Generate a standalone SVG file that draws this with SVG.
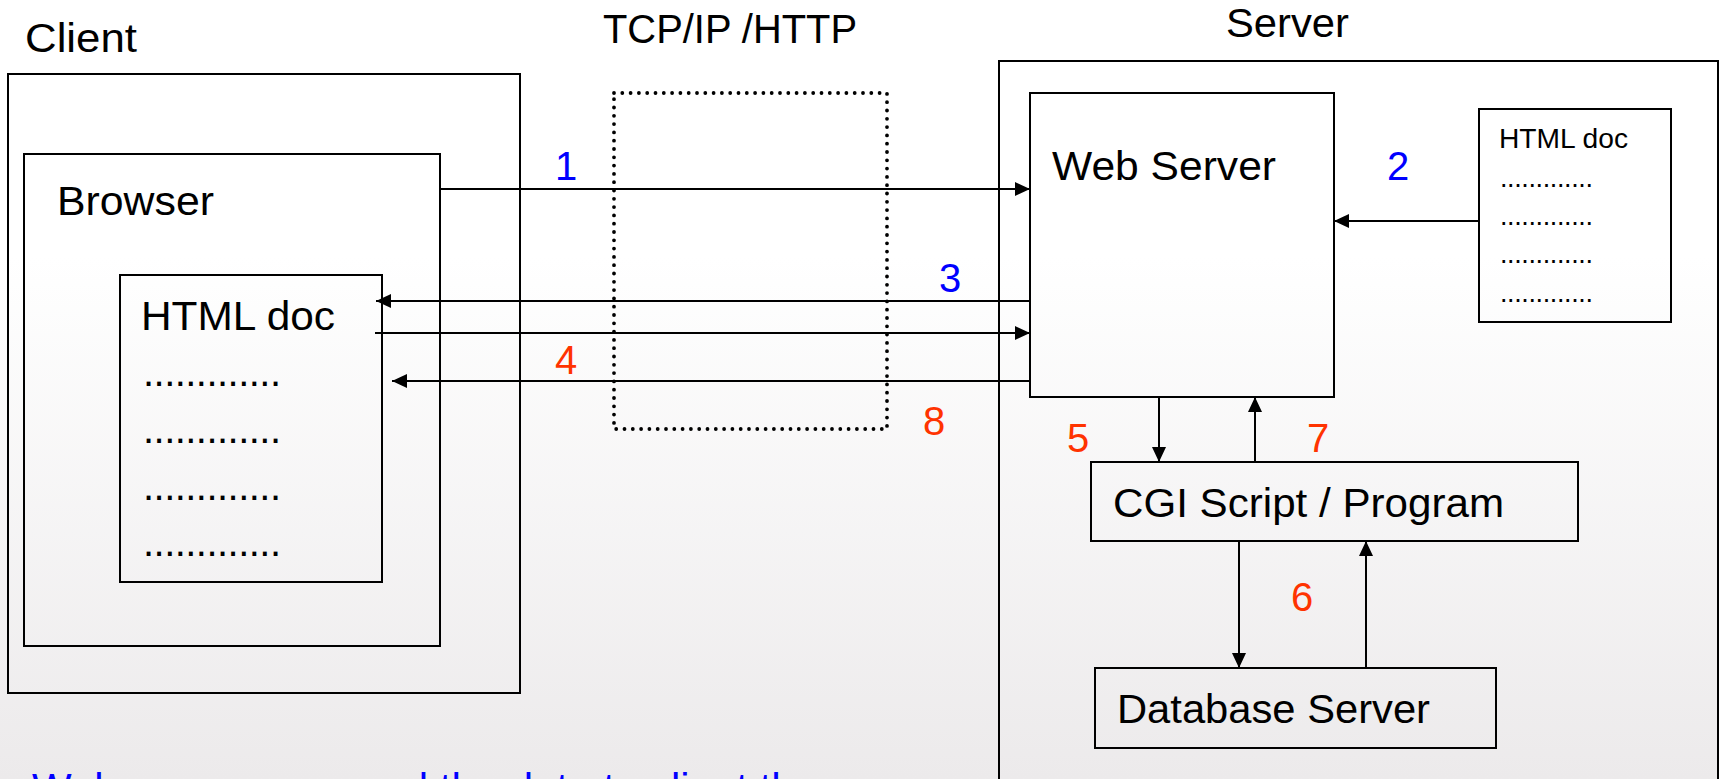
<svg xmlns="http://www.w3.org/2000/svg" width="1719" height="779" viewBox="0 0 1719 779">
  <defs>
    <linearGradient id="bg" x1="0" y1="0" x2="0" y2="779" gradientUnits="userSpaceOnUse">
      <stop offset="0" stop-color="#FFFFFF"/>
      <stop offset="0.33" stop-color="#FFFFFF"/>
      <stop offset="1" stop-color="#ECEAEB"/>
    </linearGradient>
    <marker id="arrow" markerUnits="userSpaceOnUse" markerWidth="15" markerHeight="14" refX="15" refY="7" orient="auto">
      <path d="M0,0 L15,7 L0,14 Z" fill="#000"/>
    </marker>
    <style>
      .box { fill: none; stroke: #000; stroke-width: 2; }
      .net { fill: none; stroke: #000; stroke-width: 3.8; stroke-dasharray: 0 8.3; stroke-linecap: round; }
      .lbl { font-family: "Liberation Sans", Arial, sans-serif; font-size: 40px; fill: #000; }
      .small { font-size: 27px; }
      .step { font-family: "Liberation Sans", Arial, sans-serif; font-size: 40px; text-anchor: middle; }
      .blue { fill: #0000FF; }
      .red { fill: #FF3300; }
      .wire { fill: none; stroke: #000; stroke-width: 2; }
      .note { font-family: "Liberation Sans", Arial, sans-serif; font-size: 42px; fill: #0000FF; }
    </style>
  </defs>

  <rect x="0" y="0" width="1719" height="779" fill="url(#bg)"/>

  <!-- section titles -->
  <g id="titles">
    <text class="lbl" x="25" y="52" textLength="112" lengthAdjust="spacingAndGlyphs">Client</text>
    <text class="lbl" x="603" y="43" textLength="254" lengthAdjust="spacingAndGlyphs">TCP/IP /HTTP</text>
    <text class="lbl" x="1226" y="37" textLength="123" lengthAdjust="spacingAndGlyphs">Server</text>
  </g>

  <!-- client side -->
  <g id="client">
    <rect class="box" x="8" y="74" width="512" height="619"/>
  </g>
  <g id="browser">
    <rect class="box" x="24" y="154" width="416" height="492"/>
    <text class="lbl" x="57" y="215" textLength="157" lengthAdjust="spacingAndGlyphs">Browser</text>
  </g>
  <g id="client-doc">
    <rect class="box" x="120" y="275" width="262" height="307"/>
    <text class="lbl" x="141" y="330" textLength="194" lengthAdjust="spacingAndGlyphs">HTML doc</text>
    <text class="lbl" x="143" y="386" textLength="138">.............</text>
    <text class="lbl" x="143" y="443" textLength="138">.............</text>
    <text class="lbl" x="143" y="500" textLength="138">.............</text>
    <text class="lbl" x="143" y="556" textLength="138">.............</text>
  </g>

  <!-- network -->
  <g id="network">
    <rect class="net" x="614" y="93" width="273" height="336"/>
  </g>

  <!-- server side -->
  <g id="server">
    <rect class="box" x="999" y="61" width="719" height="760"/>
  </g>
  <g id="web-server">
    <rect class="box" x="1030" y="93" width="304" height="304"/>
    <text class="lbl" x="1052" y="180" textLength="224" lengthAdjust="spacingAndGlyphs">Web Server</text>
  </g>
  <g id="server-doc">
    <rect class="box" x="1479" y="109" width="192" height="213"/>
    <text class="lbl small" x="1499" y="148" textLength="129" lengthAdjust="spacingAndGlyphs">HTML doc</text>
    <text class="lbl small" x="1500" y="187" textLength="93">.............</text>
    <text class="lbl small" x="1500" y="225" textLength="93">.............</text>
    <text class="lbl small" x="1500" y="263" textLength="93">.............</text>
    <text class="lbl small" x="1500" y="302" textLength="93">.............</text>
  </g>
  <g id="cgi">
    <rect class="box" x="1091" y="462" width="487" height="79"/>
    <text class="lbl" x="1113" y="517" textLength="391" lengthAdjust="spacingAndGlyphs">CGI Script / Program</text>
  </g>
  <g id="database">
    <rect class="box" x="1095" y="668" width="401" height="80"/>
    <text class="lbl" x="1117" y="723" textLength="313" lengthAdjust="spacingAndGlyphs">Database Server</text>
  </g>

  <!-- connectors -->
  <g id="connectors">
    <path class="wire" d="M440,189 H1030" marker-end="url(#arrow)"/>
    <path class="wire" d="M1479,221 H1334" marker-end="url(#arrow)"/>
    <path class="wire" d="M1030,301 H376" marker-end="url(#arrow)"/>
    <path class="wire" d="M375,333 H1030" marker-end="url(#arrow)"/>
    <path class="wire" d="M1030,381 H392" marker-end="url(#arrow)"/>
    <path class="wire" d="M1159,397 V462" marker-end="url(#arrow)"/>
    <path class="wire" d="M1255,462 V397" marker-end="url(#arrow)"/>
    <path class="wire" d="M1239,541 V668" marker-end="url(#arrow)"/>
    <path class="wire" d="M1366,668 V541" marker-end="url(#arrow)"/>
  </g>

  <!-- step numbers -->
  <g id="steps">
    <text class="step blue" x="566" y="180">1</text>
    <text class="step blue" x="1398" y="180">2</text>
    <text class="step blue" x="950" y="292">3</text>
    <text class="step red" x="566" y="374">4</text>
    <text class="step red" x="1078" y="452">5</text>
    <text class="step red" x="1302" y="611">6</text>
    <text class="step red" x="1318" y="452">7</text>
    <text class="step red" x="934" y="435">8</text>
  </g>

  <!-- bullet line running off the bottom edge -->
  <g id="note">
    <path d="M-10,774 L4,784 L-10,794 Z" fill="#FF3300"/>
    <text class="note" x="32" y="803">Web server can send the data to client the</text>
  </g>
</svg>
